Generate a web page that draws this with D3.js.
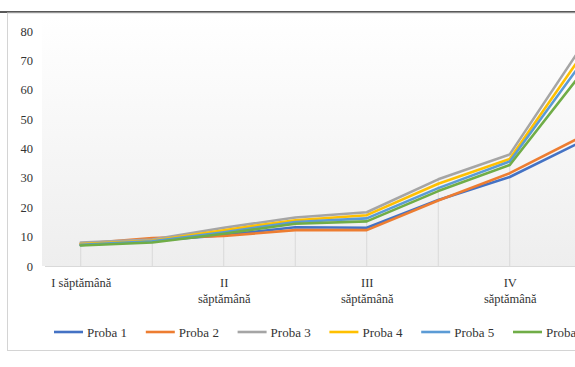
<!DOCTYPE html>
<html>
<head>
<meta charset="utf-8">
<script src="https://cdn.jsdelivr.net/npm/d3@7"></script>
<style>
  html, body { margin: 0; padding: 0; background: #fff; overflow: hidden; }
  svg { display: block; font-family: "Liberation Serif", "Times New Roman", serif; }
  svg text { font-family: "Liberation Serif", "Times New Roman", serif; }
</style>
</head>
<body>
<svg id="chart" width="575" height="367"></svg>
<script>
// Week labels (every other category carries a label)
const categoryLabels = ["I săptămână", "", "II\nsăptămână", "", "III\nsăptămână", "", "IV\nsăptămână", ""];
const seriesNames = ["Proba 1", "Proba 2", "Proba 3", "Proba 4", "Proba 5", "Proba 6"];
const seriesColors = ["#4472C4", "#ED7D31", "#A5A5A5", "#FFC000", "#5B9BD5", "#70AD47"];

const proba1 = [7.2, 8.6, 10.5, 13.2, 13.0, 22.5, 30.3, 42.3];
const proba2 = [7.6, 9.5, 10.2, 12.2, 12.2, 22.3, 31.6, 44.0];
const proba3 = [8.0, 9.0, 13.0, 16.5, 18.3, 29.5, 38.0, 74.5];
const proba4 = [7.5, 8.6, 12.2, 15.6, 17.3, 28.0, 36.4, 71.5];
const proba5 = [7.2, 8.4, 11.5, 15.0, 16.2, 26.5, 35.6, 69.0];
const proba6 = [7.0, 8.0, 11.0, 14.4, 15.2, 25.5, 34.4, 65.5];
const seriesValues = [proba1, proba2, proba3, proba4, proba5, proba6];

const yTicks = [0, 10, 20, 30, 40, 50, 60, 70, 80];

const svg = d3.select("#chart");

// Chart frame and heading rule
svg.append("line").attr("x1", 0).attr("x2", 575).attr("y1", 12).attr("y2", 12)
  .attr("stroke", "#222").attr("stroke-width", 1.5);
svg.append("rect").attr("x", 7.5).attr("y", 13).attr("width", 700).attr("height", 337.5)
  .attr("fill", "#fff").attr("stroke", "#d4d4d4").attr("stroke-width", 1);

const plotLeft = 45, plotTop = 16, plotBottom = 266;
const x = d3.scalePoint().domain(d3.range(categoryLabels.length))
  .range([plotLeft, plotLeft + 71.5 * categoryLabels.length]).padding(0.5);
const y = d3.scaleLinear().domain([0, 80]).range([plotBottom, 31]);

// Plot area background gradient
const defs = svg.append("defs");
const grad = defs.append("linearGradient").attr("id", "plotBg")
  .attr("x1", 0).attr("y1", 0).attr("x2", 0).attr("y2", 1);
grad.append("stop").attr("offset", "0%").attr("stop-color", "#ffffff");
grad.append("stop").attr("offset", "100%").attr("stop-color", "#eeeeee");
svg.append("rect").attr("x", plotLeft - 3).attr("y", plotTop)
  .attr("width", 700).attr("height", plotBottom - plotTop)
  .attr("fill", "url(#plotBg)");

// Drop lines from the highest series at each category
const maxes = categoryLabels.map((_, i) => d3.max(seriesValues, s => s[i]));
svg.append("g").selectAll("line").data(maxes).join("line")
  .attr("x1", (d, i) => x(i)).attr("x2", (d, i) => x(i))
  .attr("y1", d => y(d)).attr("y2", plotBottom)
  .attr("stroke", "#d9d9d9").attr("stroke-width", 1);

// Category axis
const xAxis = svg.append("g").attr("transform", `translate(0,${plotBottom})`)
  .call(d3.axisBottom(x).tickSize(0).tickFormat(""))
  .attr("font-family", null).attr("font-size", null);
xAxis.select(".domain").attr("stroke", "#d9d9d9").attr("d", `M${plotLeft},0.5H${plotLeft + 700}`);
xAxis.selectAll(".tick").each(function (d) {
  const lines = categoryLabels[d].split("\n").filter(s => s.length);
  const t = d3.select(this).append("text")
    .attr("fill", "#333").attr("font-size", 12.5).attr("text-anchor", "middle");
  lines.forEach((ln, k) => {
    t.append("tspan").attr("x", 0).attr("y", 21 + k * 15.5).text(ln);
  });
});

// Value axis labels
const yAxis = svg.append("g").attr("transform", `translate(33,0)`)
  .call(d3.axisLeft(y).tickValues(yTicks).tickSize(0).tickPadding(0))
  .attr("font-family", null).attr("font-size", null);
yAxis.select(".domain").remove();
yAxis.selectAll("text").attr("fill", "#333").attr("font-size", 12.5);

// Series lines
const line = d3.line().x((d, i) => x(i)).y(d => y(d));
svg.append("g").selectAll("path").data(seriesValues).join("path")
  .attr("d", line).attr("fill", "none")
  .attr("stroke", (d, i) => seriesColors[i]).attr("stroke-width", 2.6)
  .attr("stroke-linejoin", "round").attr("stroke-linecap", "round");

// Legend
const legend = svg.append("g").attr("transform", "translate(54,332)");
const item = legend.selectAll("g").data(seriesNames).join("g")
  .attr("transform", (d, i) => `translate(${i * 91.8},0)`);
item.append("line").attr("x1", 0).attr("x2", 29).attr("y1", 0).attr("y2", 0)
  .attr("stroke", (d, i) => seriesColors[i]).attr("stroke-width", 2.6);
item.append("text").attr("x", 33).attr("y", 4.5).attr("font-size", 13)
  .attr("fill", "#333").text(d => d);
</script>
</body>
</html>
